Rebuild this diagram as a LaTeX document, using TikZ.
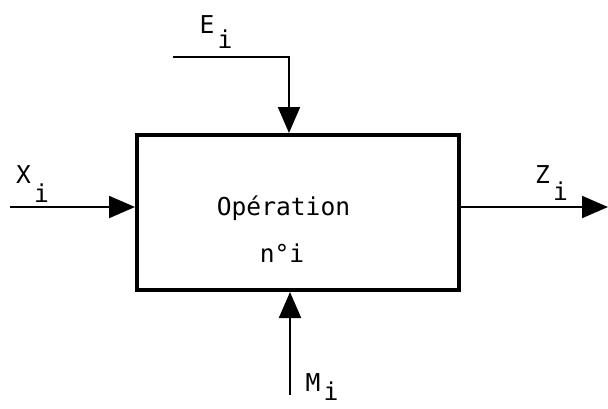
\documentclass[tikz,border=0pt]{standalone}
\usepackage{fontspec}
\newfontfamily\monofnt{DejaVu Sans Mono}
\usetikzlibrary{arrows.meta}
\newcommand{\lowi}[1]{\kern3pt\raisebox{-#1pt}{i}}
\begin{document}
\begin{tikzpicture}[x=1pt,y=-1pt,
  txt/.style={inner sep=0pt, font=\monofnt\fontsize{24.6}{30}\selectfont},
  conn/.style={line width=2pt, -{Triangle[length=26pt,width=22pt]}},
  plain/.style={line width=2pt},
  opbox/.style={draw, line width=4pt, minimum width=322pt, minimum height=155pt, inner sep=0pt}]
\useasboundingbox (0,0) rectangle (608,408);
\node[opbox] (op) at (298,212.5) {};
\node[txt, anchor=base] (t1) at (283.5,215) {Opération};
\node[txt, anchor=base] (t2) at (282,262) {n°i};
% labels
\node[txt, anchor=base west] (le) at (199.5,33) {E\lowi{15}};
\node[txt, anchor=base west] (lx) at (16,183) {X\lowi{19}};
\node[txt, anchor=base west] (lz) at (535,183) {Z\lowi{17}};
\node[txt, anchor=base west] (lm) at (305.5,391) {M\lowi{9}};
% connectors
\coordinate (e0) at (173,57);
\coordinate (e1) at (289,57);
\draw[plain] (e0) -- ([xshift=1pt]e1);
\draw[conn] (e1) -- (e1 |- op.north);
\coordinate (x0) at (10,207);
\draw[conn] (x0) -- (x0 -| op.west);
\coordinate (z1) at (608,207);
\draw[conn] (z1 -| op.east) -- (z1);
\coordinate (m0) at (290,395);
\draw[conn] (m0) -- (m0 |- op.south);
\end{tikzpicture}
\end{document}
